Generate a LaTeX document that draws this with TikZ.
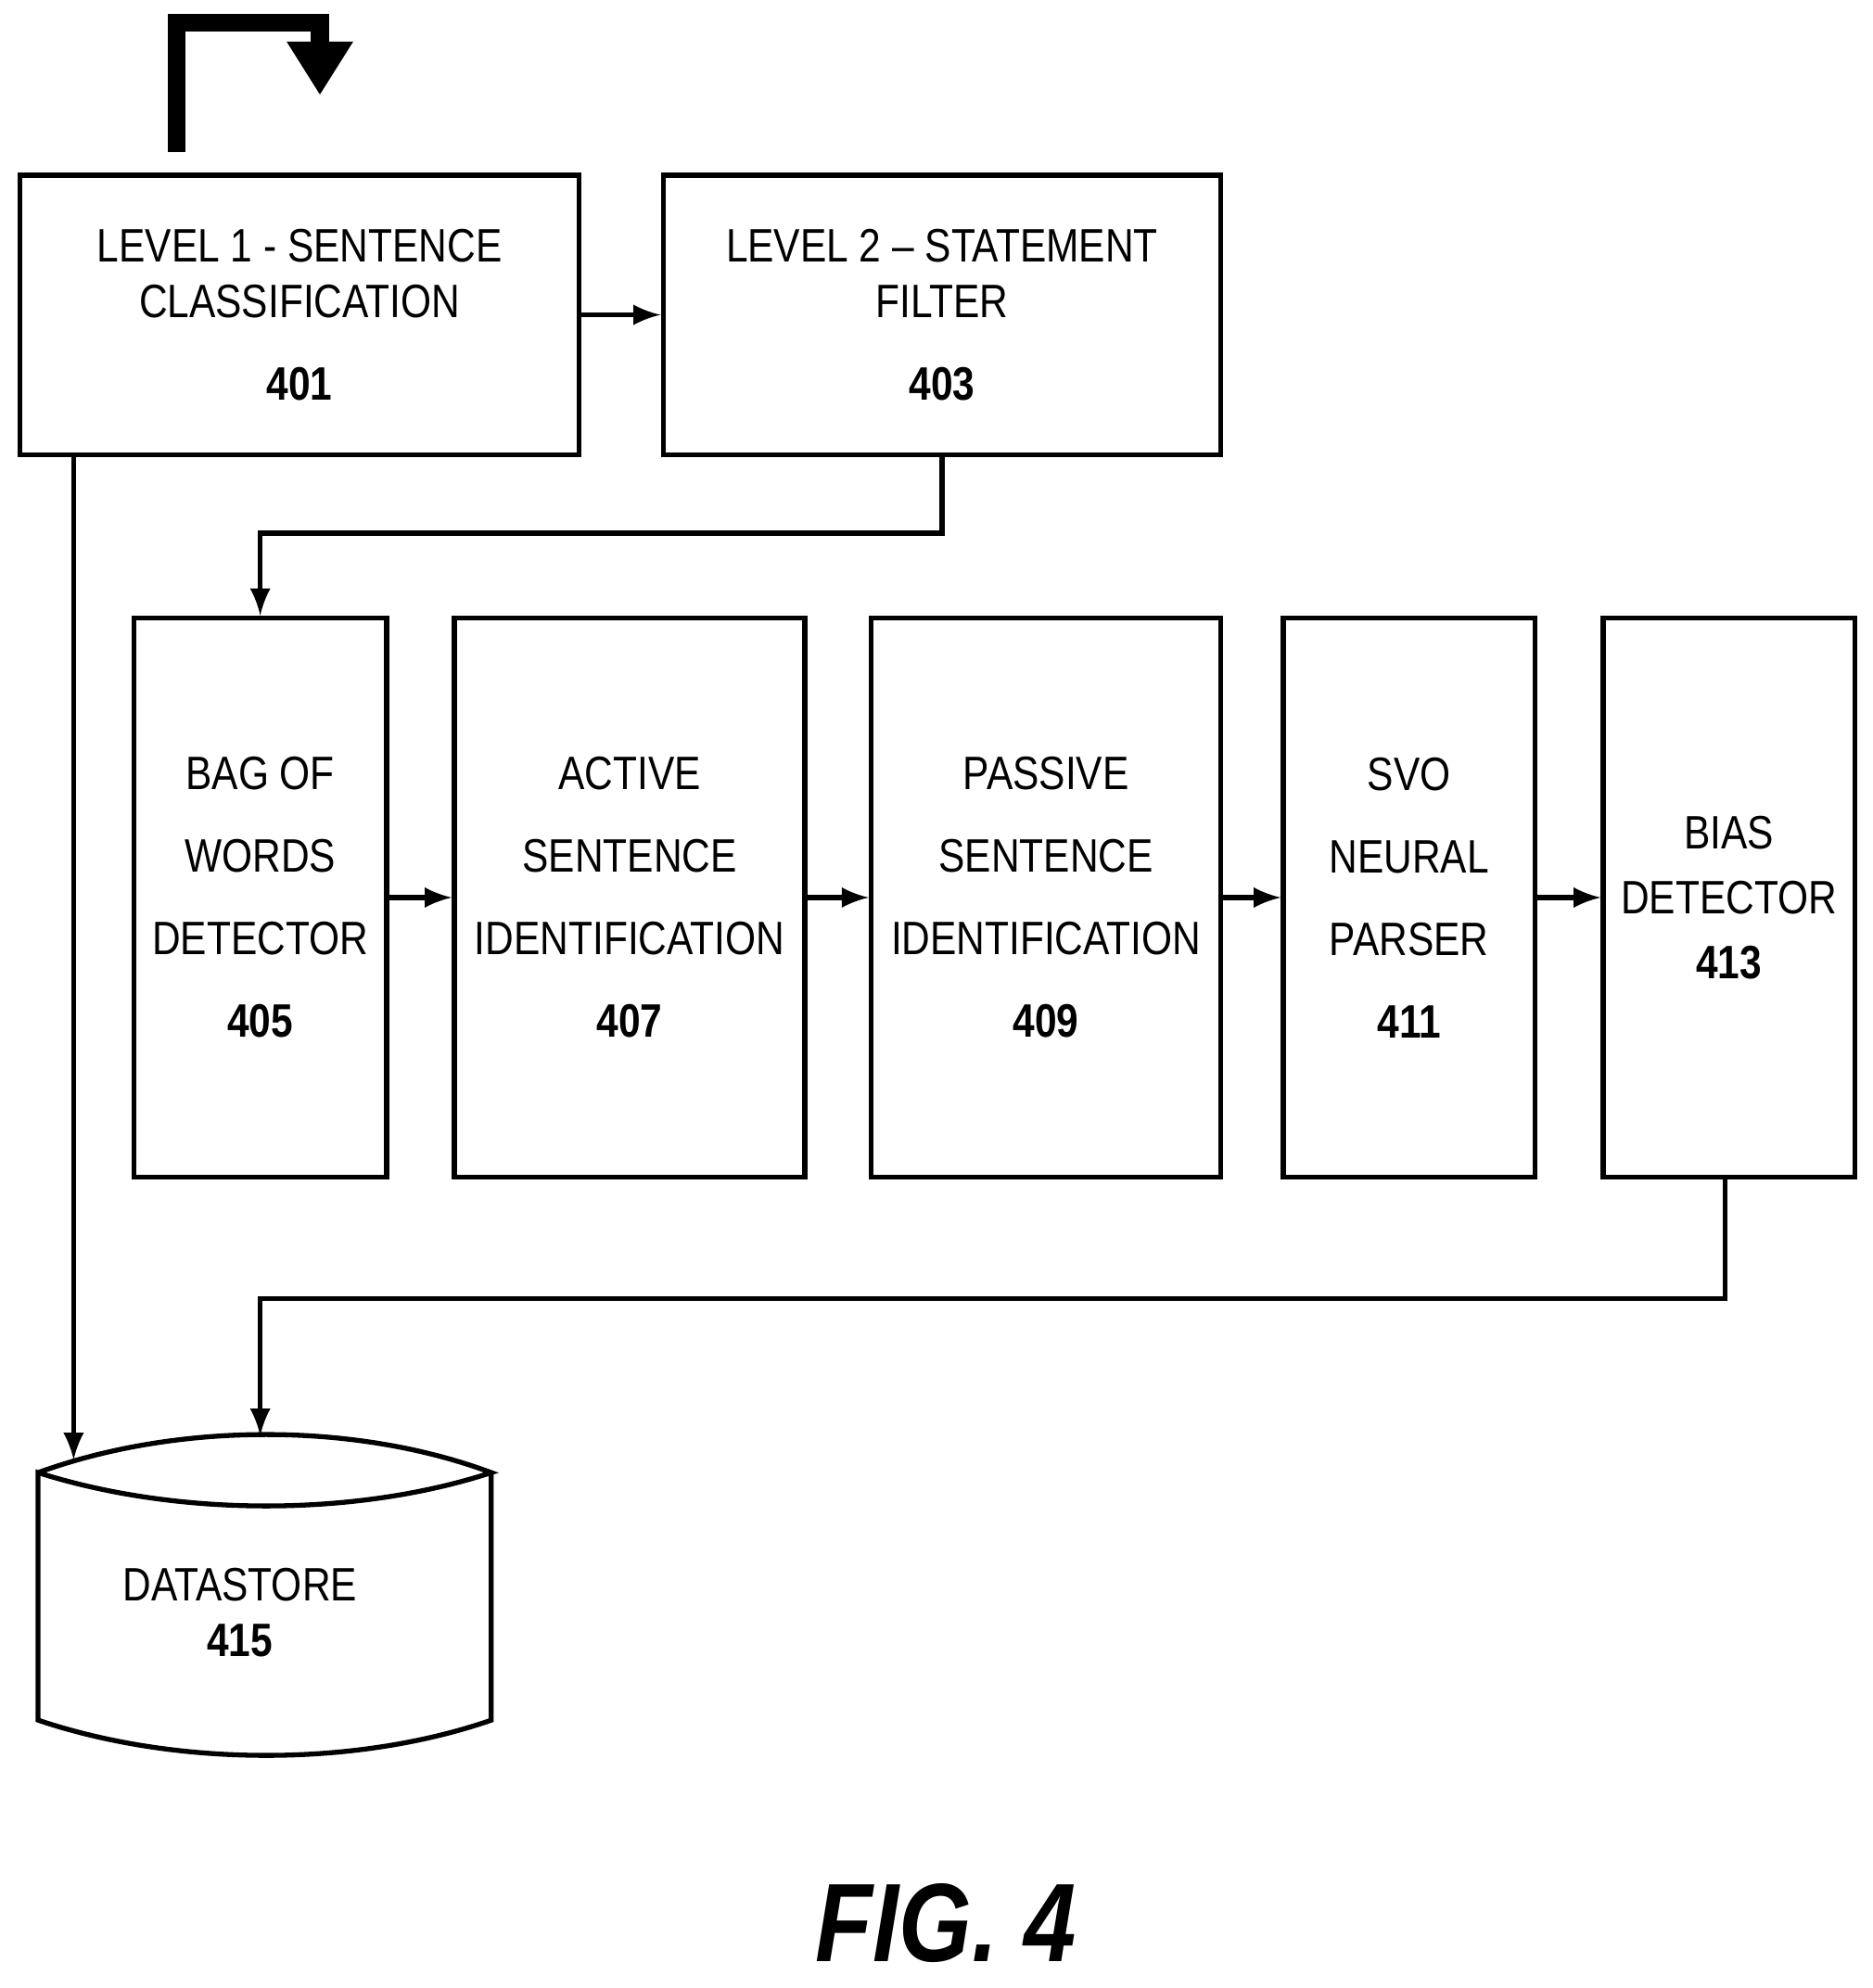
\documentclass[tikz,border=0pt]{standalone}
\usepackage{fontspec}
\setmainfont[FakeStretch=0.84]{Liberation Sans}
\usetikzlibrary{positioning,arrows.meta}
\begin{document}
\begin{tikzpicture}[x=0.01cm,y=-0.01cm,
    box/.style={draw,line width=1.1pt,align=center,inner sep=0pt},
    flow/.style={->,>=latex,line width=1.1pt},
    lbl/.style={font=\fontsize{10.5}{12.5}\selectfont}]
    \useasboundingbox (0,0) rectangle (1475,1566);

    % top row
    \node[box,minimum width=4.4cm,minimum height=2.2cm,lbl] (L1) at (236,248) {LEVEL 1 - SENTENCE\\CLASSIFICATION\\[6pt]\textbf{401}};
    \node[box,minimum width=4.39cm,minimum height=2.2cm,lbl] (L2) at (742,248) {LEVEL 2 -- STATEMENT\\FILTER\\[6pt]\textbf{403}};

    % detector row
    \node[box,minimum width=1.99cm,minimum height=4.4cm,lbl] (BOW) at (205,707) {BAG OF\\[6pt]WORDS\\[6pt]DETECTOR\\[6pt]\textbf{405}};
    \node[box,minimum width=2.76cm,minimum height=4.4cm,lbl] (ACT) at (496,707) {ACTIVE\\[6pt]SENTENCE\\[6pt]IDENTIFICATION\\[6pt]\textbf{407}};
    \node[box,minimum width=2.75cm,minimum height=4.4cm,lbl] (PAS) at (824,707) {PASSIVE\\[6pt]SENTENCE\\[6pt]IDENTIFICATION\\[6pt]\textbf{409}};
    \node[box,minimum width=1.98cm,minimum height=4.4cm,lbl] (SVO) at (1110,707) {SVO\\[6pt]NEURAL\\[6pt]PARSER\\[6pt]\textbf{411}};
    \node[box,minimum width=1.98cm,minimum height=4.4cm,lbl] (BIAS) at (1362,707) {BIAS\\[2pt]DETECTOR\\[2pt]\textbf{413}};

    % datastore
    \draw[line width=1.1pt] (30,1160) .. controls (140,1120) and (280,1120) .. (387,1160)
        .. controls (280,1195) and (140,1195) .. (30,1160) -- (30,1355)
        .. controls (140,1392) and (280,1392) .. (387,1355) -- (387,1160);
    \node[lbl,align=center] (DS) at (189,1270) {DATASTORE\\\textbf{415}};
    \coordinate (dsL) at (58,1150);
    \coordinate (dsT) at (205,1131);

    % start arrow
    \coordinate (s0) at (139,120);
    \coordinate (s1) at (252,75);
    \draw[line width=4pt,-{Triangle[length=12pt,width=14pt]}] (s0) |- (252,18) -- (s1);

    \draw[flow] (L1) -- (L2);
    \draw[flow] (L2.south) -- ++(0,60) -| (BOW.north);
    \draw[flow] (BOW) -- (ACT);
    \draw[flow] (ACT) -- (PAS);
    \draw[flow] (PAS) -- (SVO);
    \draw[flow] (SVO) -- (BIAS);
    \draw[flow] (L1.south -| dsL) -- (dsL);
    \draw[flow] (BIAS.south -| 1359,0) -- (1359,1023) -| (dsT);

    \node[font=\fontsize{25}{28}\selectfont\bfseries\itshape] (FIG) at (745,1515) {FIG. 4};
\end{tikzpicture}
\end{document}
